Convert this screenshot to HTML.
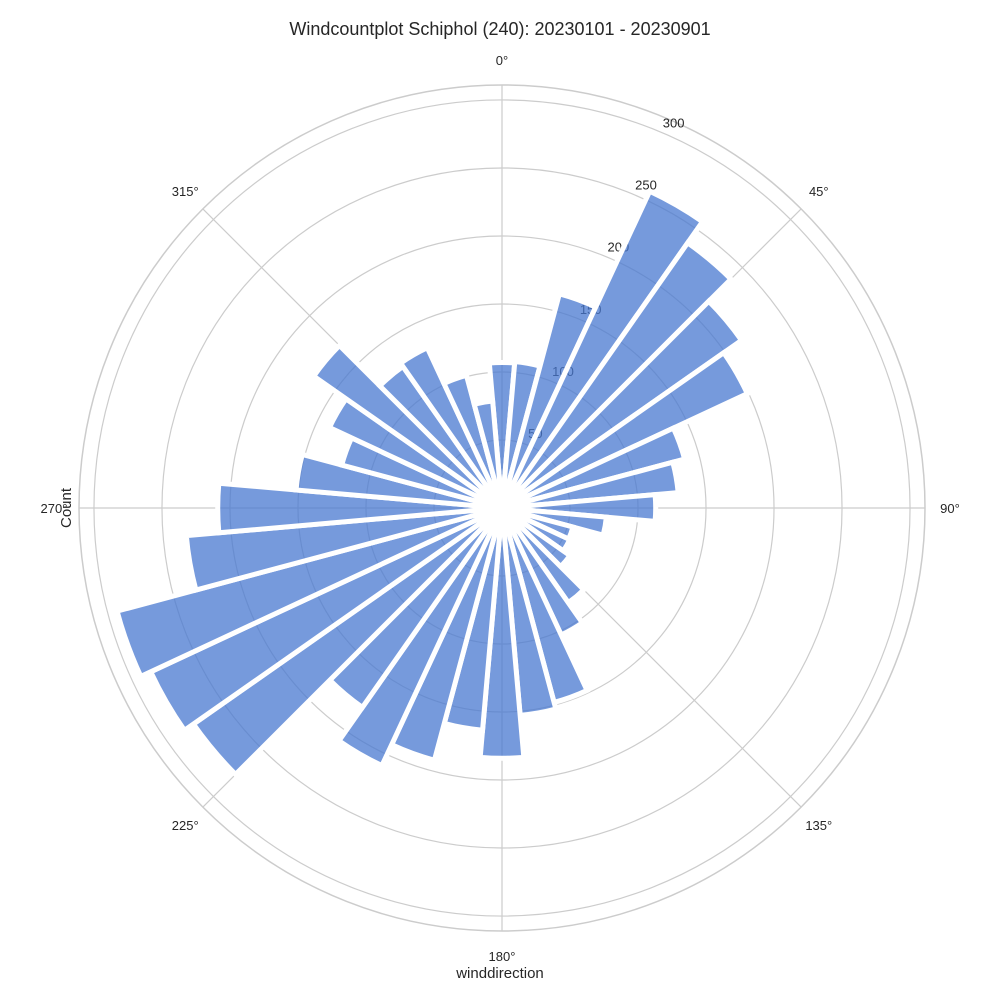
<!DOCTYPE html>
<html><head><meta charset="utf-8"><style>
body{margin:0;background:#fff;}
svg{display:block;font-family:"Liberation Sans",sans-serif;}
</style></head><body>
<svg id="chart" width="1000" height="1000">
<text x="500" y="35" text-anchor="middle" font-size="18" fill="#262626">Windcountplot Schiphol (240): 20230101 - 20230901</text>
<g id="grid"></g>
<g id="rlabels"></g>
<g id="bars"></g>
<g id="labels"></g>
<text x="500" y="978" text-anchor="middle" font-size="15" fill="#262626">winddirection</text>
<text x="0" y="0" transform="translate(71,508) rotate(-90)" text-anchor="middle" font-size="15" fill="#262626">Count</text>
</svg>
<script>
const directions=[0,10,20,30,40,50,60,70,80,90,100,110,120,130,140,150,160,170,180,190,200,210,220,230,240,250,260,270,280,290,300,310,320,330,340,350];
const counts=[107,108,163,257,238,215,199,139,130,113,77,54,55,61,85,103,148,153,184,164,192,209,179,277,285,293,233,209,152,122,140,169,127,130,101,79];
const radialTicks=[50,100,150,200,250,300];
const angleTicks=[0,45,90,135,180,225,270,315];
const angleLabels=["0°","45°","90°","135°","180°","225°","270°","315°"];
const rMax=311;
const CX=502,CY=508,R=423;
const NS="http://www.w3.org/2000/svg";
function rScale(v){return v/rMax*R;}
function pt(deg,r){const a=deg*Math.PI/180;return [CX+r*Math.sin(a),CY-r*Math.cos(a)];}
function mk(tag,attrs,parent){const e=document.createElementNS(NS,tag);for(const k in attrs)e.setAttribute(k,attrs[k]);parent.appendChild(e);return e;}
const grid=document.getElementById('grid'),bars=document.getElementById('bars'),labels=document.getElementById('labels'),rlabels=document.getElementById('rlabels');
radialTicks.forEach(t=>{
  const c=mk('circle',{cx:CX,cy:CY,r:rScale(t),fill:'none',stroke:'#cccccc','stroke-width':1.2},grid);
  
  
});
angleTicks.forEach(t=>{
  const p=pt(t,R);
  const l=mk('line',{x1:CX,y1:CY,x2:p[0],y2:p[1],stroke:'#cccccc','stroke-width':1.2},grid);
  
  
});
const fr=mk('circle',{cx:CX,cy:CY,r:R,fill:'none',stroke:'#cccccc','stroke-width':1.5},grid);


const half=5;
directions.forEach((d,i)=>{
  const r=rScale(counts[i]);
  const a=pt(d-half,r),b=pt(d+half,r);
  const path=`M${CX},${CY} L${a[0]},${a[1]} A${r},${r} 0 0 1 ${b[0]},${b[1]} Z`;
  const p=mk('path',{d:path,fill:'#4878d0','fill-opacity':0.75,stroke:'#ffffff','stroke-width':5,'stroke-linejoin':'miter'},bars);
  
  
});
angleTicks.forEach((t,i)=>{
  const p=pt(t,448);
  const e=mk('text',{x:p[0],y:p[1]+5,'text-anchor':'middle','font-size':13,fill:'#262626'},labels);
  e.textContent=angleLabels[i];
  
  
});
radialTicks.forEach(t=>{
  const p=pt(24,rScale(t)+14);
  const e=mk('text',{x:p[0],y:p[1]+5,'text-anchor':'middle','font-size':13,fill:'#262626'},rlabels);
  e.textContent=t;
  
  
});
</script>
</body></html>
